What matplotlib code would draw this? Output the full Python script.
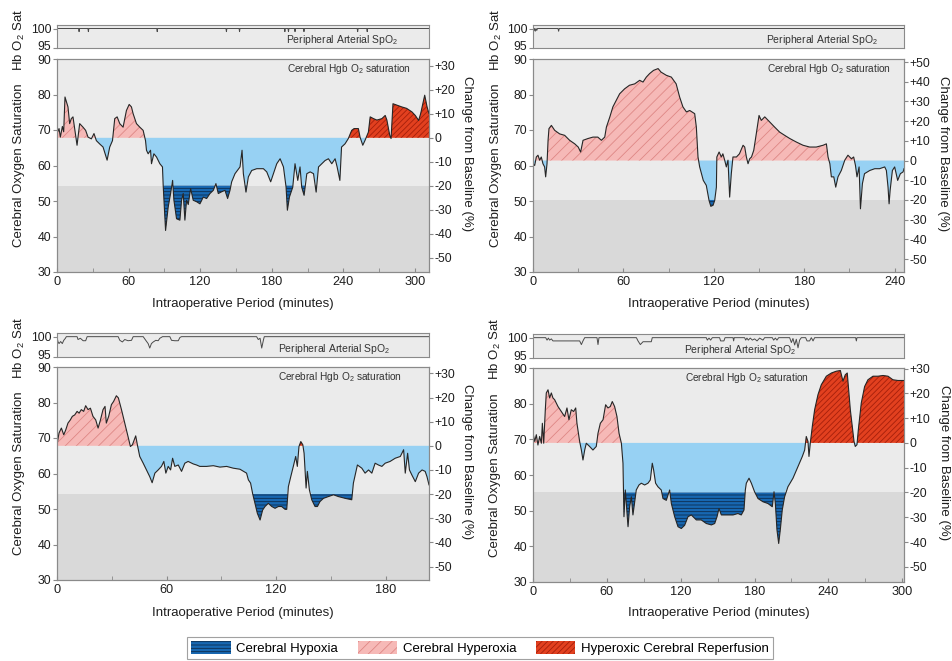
import matplotlib
matplotlib.use("Agg")
import matplotlib.pyplot as plt
import matplotlib.transforms as mtransforms
import numpy as np
from matplotlib.patches import Patch

W, H = 953, 661

# ---- panel A (top left) : cerebral saturation, % of baseline on right axis ----
a_time = [0, 1.7, 2.8, 4.5, 5.6, 6.7, 9.2, 10.6, 12.0, 13.4,
          14.8, 16.8, 19.0, 21.8, 24.0, 26.0, 28.8, 31.0, 33.0, 36.0,
          38.6, 42.0, 44.2, 46.5, 48.4, 50.4, 52.6, 55.4, 58.2, 60.5,
          62.4, 63.8, 66.6, 69.4, 72.2, 74.2, 75.0, 76.4, 78.4, 79.2,
          81.2, 83.4, 86.2, 88.4, 89.0, 91.0, 93.2, 95.2, 96.9, 98.0,
          100.2, 103.0, 104.4, 105.8, 107.2, 108.6, 110.0, 112.0, 114.2, 117.0,
          119.8, 122.6, 125.4, 128.2, 131.0, 133.2, 135.2, 138.0, 140.8, 143.0,
          145.0, 146.4, 149.2, 151.2, 153.4, 155.1, 156.2, 158.4, 160.4, 163.2,
          167.4, 173.0, 175.8, 179.1, 181.4, 184.2, 187.0, 189.8, 192.0, 193.1,
          194.8, 197.6, 199.5, 201.8, 203.7, 205.1, 207.1, 209.4, 212.2, 215.0,
          217.2, 219.2, 221.9, 224.7, 227.5, 230.3, 233.1, 234.8, 237.1, 238.5,
          241.4, 244.2, 247.0, 249.0, 252.6, 254.0, 256.3, 258.2, 261.0, 262.5,
          265.3, 268.1, 272.3, 275.1, 276.5, 278.9, 280.0, 281.6, 285.0, 289.0,
          293.0, 297.5, 300.3, 303.1, 304.8, 308.2, 310.2, 311.8]
a_sat = [69.0, 70.4, 68.0, 71.0, 69.5, 79.3, 76.5, 71.8, 73.2, 73.7,
         70.4, 65.7, 71.8, 70.8, 69.9, 68.0, 67.5, 69.0, 67.0, 66.0,
         65.2, 61.5, 65.2, 67.0, 73.2, 73.7, 71.8, 70.8, 75.5, 77.2,
         76.5, 74.6, 71.8, 70.8, 69.9, 67.0, 64.3, 63.3, 64.3, 60.5,
         63.3, 62.4, 60.5, 59.6, 54.4, 41.7, 48.3, 52.1, 55.8, 50.2,
         45.0, 44.6, 50.2, 52.1, 44.6, 50.2, 49.0, 53.5, 50.2, 49.8,
         49.2, 51.1, 50.7, 52.1, 53.0, 54.9, 52.1, 52.6, 53.0, 50.7,
         53.0, 55.4, 57.7, 58.6, 59.6, 64.3, 57.7, 52.5, 56.8, 58.6,
         59.1, 59.1, 58.2, 55.4, 57.7, 60.5, 61.9, 59.6, 53.9, 47.4,
         51.1, 53.9, 60.5, 55.8, 59.6, 53.9, 51.6, 57.7, 58.2, 57.7,
         52.5, 59.6, 60.5, 61.4, 61.9, 60.5, 61.9, 59.6, 55.8, 65.2,
         66.1, 67.6, 69.9, 70.4, 70.4, 68.0, 65.7, 67.1, 69.4, 73.7,
         73.2, 72.8, 73.2, 74.1, 72.8, 68.5, 67.6, 77.4, 77.0, 76.5,
         76.1, 75.1, 74.1, 72.7, 74.6, 79.8, 76.5, 74.6]
a_spo2_time = [0, 18.1, 18.5, 18.9, 25.9, 26.3, 26.7, 83.6, 84.0, 84.4,
               141.6, 142.0, 142.4, 152.6, 153.0, 153.4, 190.6, 191.0, 191.4, 193.6,
               194.0, 194.4, 199.1, 199.5, 199.9, 206.6, 207.0, 207.4, 251.6, 252.0,
               252.4, 259.6, 260.0, 260.4, 312]
a_spo2 = [100, 100, 99.2, 100, 100, 99.2, 100, 100, 99.2, 100,
          100, 99.2, 100, 100, 99.2, 100, 100, 99.2, 100, 100,
          99.2, 100, 100, 99.2, 100, 100, 99.2, 100, 100, 99.2,
          100, 100, 99.2, 100, 100]

# ---- panel B (top right) ----
b_time = [0, 1.1, 2.2, 3.3, 4.4, 5.5, 6.6, 7.7, 8.4, 9.3,
          10.0, 10.6, 12.2, 14.4, 17.7, 21.0, 24.3, 27.7, 30.0, 31.6,
          33.2, 36.5, 39.8, 43.0, 45.4, 47.6, 48.7, 51.0, 53.0, 55.3,
          57.5, 60.8, 64.0, 67.5, 70.8, 73.0, 75.2, 77.4, 80.0, 83.0,
          85.0, 88.5, 91.8, 95.0, 97.3, 99.5, 101.8, 104.0, 107.3, 108.4,
          109.5, 110.6, 113.0, 115.0, 116.8, 118.0, 119.5, 120.6, 121.7, 122.0,
          123.5, 125.0, 126.0, 127.2, 128.3, 129.4, 130.5, 131.6, 132.7, 135.0,
          137.0, 139.4, 140.5, 141.6, 142.7, 143.8, 145.0, 146.5, 148.2, 150.0,
          151.5, 153.8, 157.0, 160.4, 163.7, 167.0, 170.4, 174.8, 179.2, 183.6,
          188.0, 192.5, 194.7, 195.8, 197.0, 198.0, 199.6, 200.9, 202.4, 204.6,
          206.9, 209.0, 211.3, 212.8, 214.0, 215.0, 216.4, 217.3, 218.6, 220.0,
          223.5, 226.8, 230.0, 233.4, 234.5, 235.6, 236.3, 237.0, 238.5, 240.0,
          242.0, 243.8, 245.6, 246.2]
b_sat = [60.5, 60.0, 62.4, 62.9, 61.5, 62.4, 60.5, 59.6, 56.8, 60.5,
         67.1, 70.4, 71.3, 69.9, 68.9, 68.5, 67.1, 66.1, 65.2, 63.8,
         67.1, 67.6, 68.0, 68.0, 67.1, 68.0, 70.8, 73.7, 76.5, 78.4,
         80.2, 81.6, 82.6, 83.0, 84.0, 83.5, 84.9, 85.9, 86.8, 87.3,
         86.3, 85.4, 84.9, 83.0, 79.3, 76.5, 75.1, 75.5, 74.6, 70.8,
         62.4, 59.6, 55.8, 54.4, 50.2, 48.5, 48.8, 50.2, 53.9, 62.4,
         63.8, 62.4, 63.3, 61.5, 59.6, 61.5, 51.1, 57.7, 62.4, 62.4,
         63.3, 65.7, 65.2, 62.4, 60.5, 61.9, 62.4, 64.3, 69.0, 74.1,
         72.7, 73.7, 72.3, 70.8, 69.4, 68.5, 67.6, 66.6, 65.7, 65.2,
         65.2, 65.7, 66.1, 62.4, 60.5, 56.8, 56.8, 53.9, 56.8, 58.6,
         61.5, 62.9, 61.9, 62.4, 60.0, 56.8, 59.6, 47.8, 54.9, 57.7,
         58.6, 59.1, 59.1, 59.6, 58.6, 53.9, 49.2, 53.0, 58.6, 59.6,
         55.8, 57.7, 58.2, 59.1]
b_spo2_time = [0, 0.5, 1.0, 1.5, 2.0, 2.5, 3.0, 16.6, 17.0, 17.4, 246.2]
b_spo2 = [100, 99.4, 100, 99.3, 100, 99.5, 100, 100, 99.3, 100, 100]

# ---- panel C (bottom left) ----
c_time = [0, 1.1, 2.4, 3.7, 4.8, 6.0, 7.3, 8.4, 9.7, 11.0,
          12.1, 13.3, 14.6, 15.7, 17.0, 18.3, 19.7, 21.2, 22.5, 23.8,
          25.2, 26.3, 27.0, 28.3, 29.8, 31.0, 32.5, 33.6, 35.3, 37.1,
          38.9, 40.2, 41.3, 43.1, 44.0, 45.3, 47.2, 49.0, 50.8, 52.1,
          53.6, 55.4, 57.2, 58.5, 59.6, 60.9, 62.2, 63.3, 64.5, 66.4,
          68.2, 70.0, 71.8, 74.6, 76.4, 78.2, 81.9, 85.6, 89.2, 92.9,
          96.5, 100.2, 103.8, 104.8, 106.0, 107.1, 108.4, 109.7, 111.2, 112.6,
          113.9, 115.7, 117.6, 119.4, 121.2, 123.0, 124.9, 125.8, 126.7, 128.0,
          129.4, 130.7, 131.6, 132.5, 133.5, 134.6, 135.3, 136.4, 137.1, 138.2,
          139.5, 141.3, 142.6, 144.0, 145.9, 148.6, 151.4, 154.1, 157.8, 161.4,
          162.3, 164.5, 166.9, 168.7, 170.6, 172.4, 174.2, 176.0, 177.9, 179.7,
          182.4, 185.2, 188.0, 189.8, 190.7, 192.0, 193.0, 194.3, 196.2, 198.0,
          199.9, 201.6, 202.6, 203.7]
c_sat = [68.1, 71.4, 72.8, 70.9, 72.3, 74.2, 75.1, 76.1, 76.5, 77.5,
         77.0, 78.0, 77.5, 79.1, 78.0, 78.4, 76.1, 75.1, 72.8, 75.1,
         78.0, 78.9, 74.2, 76.1, 79.4, 80.3, 81.9, 81.3, 78.0, 74.2,
         70.4, 67.6, 68.1, 70.6, 68.1, 64.8, 62.9, 61.0, 59.1, 57.4,
         60.1, 61.0, 62.0, 63.4, 60.1, 62.0, 61.0, 64.3, 62.0, 62.4,
         60.6, 62.9, 63.4, 62.7, 62.4, 62.0, 62.0, 62.2, 61.8, 62.0,
         61.5, 61.2, 60.1, 58.2, 57.3, 54.4, 51.6, 48.8, 46.9, 49.7,
         50.7, 51.6, 50.7, 50.2, 50.7, 50.7, 49.9, 49.9, 56.3, 59.1,
         62.0, 64.8, 62.0, 67.6, 69.0, 68.1, 65.7, 55.9, 60.6, 55.4,
         52.6, 50.7, 50.7, 52.1, 53.0, 53.5, 54.0, 53.5, 53.0, 52.6,
         57.3, 62.4, 61.5, 60.1, 61.0, 60.1, 62.9, 62.4, 62.0, 62.9,
         63.4, 64.3, 64.8, 66.7, 60.1, 65.7, 61.0, 59.6, 57.7, 60.1,
         61.0, 60.6, 59.1, 56.8]
c_spo2_time = [0, 0.5, 1.1, 2.0, 2.9, 3.7, 4.6, 5.1, 11.0, 11.5,
               12.8, 14.3, 15.7, 16.5, 33.5, 34.4, 35.8, 37.1, 38.9, 40.8,
               41.7, 47.2, 48.6, 49.9, 50.8, 51.7, 52.7, 54.1, 55.4, 56.3,
               57.8, 61.8, 62.7, 64.5, 66.4, 67.3, 68.2, 109.3, 110.2, 111.2,
               112.1, 113.0, 113.5, 203.7]
c_spo2 = [100, 98.8, 98.3, 98.8, 98.3, 99.1, 99.6, 100, 100, 99.3,
          99.6, 99.0, 99.0, 100, 100, 99.1, 98.7, 99.3, 99.0, 99.1,
          100, 100, 99.1, 98.3, 97.2, 98.3, 98.7, 99.1, 99.0, 99.6,
          100, 100, 99.1, 99.0, 99.0, 99.8, 100, 100, 99.3, 99.6,
          97.2, 99.1, 100, 100]

# ---- panel D (bottom right) ----
d_time = [0, 1.4, 2.7, 4.0, 5.4, 6.8, 7.6, 8.7, 10.0, 10.8,
          12.2, 13.5, 14.9, 16.2, 17.6, 20.3, 23.0, 25.7, 27.6, 29.2,
          31.1, 33.0, 34.7, 35.7, 37.9, 39.3, 40.6, 42.0, 43.3, 46.0,
          48.7, 51.4, 52.8, 54.7, 56.9, 59.0, 60.9, 62.8, 64.4, 66.3,
          68.2, 69.9, 71.8, 73.1, 73.9, 75.0, 75.8, 77.2, 78.5, 79.9,
          81.2, 82.6, 83.9, 86.1, 88.0, 90.7, 93.4, 95.3, 96.9, 98.0,
          99.6, 101.5, 104.2, 105.6, 108.3, 111.0, 112.4, 115.1, 117.8, 120.5,
          123.2, 125.9, 128.6, 132.7, 136.7, 140.8, 144.9, 147.6, 149.5, 151.1,
          153.0, 157.1, 162.5, 166.5, 169.2, 171.4, 172.5, 173.3, 175.5, 177.4,
          180.0, 182.8, 186.8, 190.9, 194.4, 195.8, 196.9, 198.2, 199.6, 200.9,
          202.5, 204.4, 207.1, 211.2, 215.3, 218.8, 220.7, 222.0, 223.4, 224.2,
          225.3, 226.9, 228.8, 231.5, 234.2, 238.3, 242.4, 246.4, 249.7, 251.8,
          253.7, 255.3, 256.4, 257.8, 259.4, 260.8, 261.8, 263.2, 264.3, 266.7,
          269.4, 272.1, 276.2, 280.3, 284.3, 288.4, 292.4, 296.5, 301.4]
d_sat = [71.7, 69.4, 71.3, 68.4, 70.8, 68.9, 74.5, 68.9, 78.3, 83.0,
         83.9, 81.6, 83.0, 81.6, 81.1, 79.2, 77.8, 76.4, 78.8, 75.5,
         78.3, 77.8, 78.8, 74.5, 69.4, 67.0, 64.2, 67.0, 68.9, 68.0,
         67.0, 68.0, 71.7, 74.5, 75.5, 79.7, 78.8, 79.2, 80.6, 79.2,
         76.4, 71.7, 68.9, 63.3, 48.3, 55.8, 52.0, 45.5, 51.1, 53.9,
         48.8, 52.5, 55.8, 57.2, 57.7, 57.2, 57.7, 58.6, 63.3, 61.4,
         57.7, 56.7, 55.8, 53.4, 52.9, 55.8, 52.0, 48.3, 45.5, 45.0,
         45.9, 48.3, 48.8, 47.4, 47.4, 46.4, 46.0, 46.4, 48.3, 50.6,
         48.8, 48.8, 48.8, 49.2, 48.8, 50.2, 55.8, 57.7, 59.1, 57.7,
         55.3, 53.4, 52.5, 52.0, 51.1, 55.3, 52.0, 44.6, 40.8, 44.6,
         50.2, 53.9, 56.7, 59.1, 62.4, 65.2, 67.0, 70.8, 69.4, 65.2,
         69.0, 73.6, 78.3, 82.5, 85.3, 87.7, 88.6, 89.1, 89.3, 86.3,
         88.1, 88.6, 83.9, 78.3, 73.6, 69.4, 68.0, 68.5, 72.7, 80.2,
         84.8, 86.7, 87.7, 87.7, 87.9, 87.7, 86.7, 86.5, 86.5]
d_spo2_time = [0, 10.3, 11.4, 12.5, 13.5, 14.9, 16.2, 37.9, 39.3, 40.6,
               42.0, 52.0, 52.8, 53.6, 84.0, 85.3, 87.2, 89.4, 96.1, 96.9,
               140.8, 141.6, 143.0, 144.3, 145.7, 151.6, 152.4, 155.1, 156.0, 162.5,
               163.0, 163.5, 171.9, 172.8, 173.8, 174.9, 176.5, 178.2, 180.0, 182.0,
               184.1, 186.8, 188.2, 194.4, 195.5, 196.9, 198.2, 199.6, 208.5, 209.9,
               211.2, 212.6, 213.9, 215.3, 216.6, 218.0, 221.5, 222.6, 224.7, 226.1,
               227.5, 228.8, 262.1, 262.7, 263.2, 301.4]
d_spo2 = [100, 100, 99.4, 99.9, 99.4, 99.7, 99.2, 99.2, 98.3, 99.2,
          100, 100, 98.3, 100, 100, 99.2, 98.3, 99.0, 99.0, 100,
          100, 99.4, 99.9, 99.4, 100, 100, 99.2, 99.2, 100, 100,
          99.2, 100, 100, 99.4, 99.9, 99.4, 99.9, 99.4, 99.7, 99.2,
          99.9, 99.4, 100, 100, 99.4, 99.9, 99.4, 100, 100, 98.8,
          99.8, 98.2, 99.6, 97.5, 99.4, 100, 100, 99.2, 99.2, 100,
          99.2, 100, 100, 99.2, 100, 100]

# baseline, hypoxia threshold (-20 %), start of reperfusion, x range
a_base, a_thr, a_reperf, a_xmax = 67.8, 54.3, 245.0, 311.8
b_base, b_thr, b_reperf, b_xmax = 61.4, 50.3, 1e9, 246.2
c_base, c_thr, c_reperf, c_xmax = 67.8, 54.2, 120.0, 203.7
d_base, d_thr, d_reperf, d_xmax = 69.0, 55.1, 221.0, 301.4

a_xticks = [0, 60, 120, 180, 240, 300]
b_xticks = [0, 60, 120, 180, 240]
c_xticks = [0, 60, 120, 180]
d_xticks = [0, 60, 120, 180, 240, 300]
a_rticks = [30, 20, 10, 0, -10, -20, -30, -40, -50]
b_rticks = [50, 40, 30, 20, 10, 0, -10, -20, -30, -40, -50]
c_rticks = a_rticks
d_rticks = a_rticks

legend_labels = ["Cerebral Hypoxia", "Cerebral Hyperoxia", "Hyperoxic Cerebral Reperfusion"]

plt.rcParams["font.family"] = ["Liberation Sans", "DejaVu Sans"]
plt.rcParams["hatch.linewidth"] = 0.6
plt.rcParams["axes.linewidth"] = 0.8

BG = "#ebebeb"
BG_LOW = "#d9d9d9"
HYPO_LIGHT = "#97d1f3"
HYPO_DARK = "#1767b1"
HYPO_HATCH = "#0d2c4d"
HYPER = "#f6b9b7"
HYPER_HATCH = "#de8785"
REPERF = "#e2401f"
REPERF_HATCH = "#a51f0b"
SPINE = "#8a8a8a"
TEXT = "#1e1e1e"
O2 = r"O$_\mathregular{2}$"
TICK_FS = 8.8
LABEL_FS = 9.5


def px_rect(x0, y0, x1, y1):
    return [x0 / W, 1 - y1 / H, (x1 - x0) / W, (y1 - y0) / H]


def style_spines(ax):
    for sp in ax.spines.values():
        sp.set_color(SPINE)


def draw_panel(fig, lay, time, sat, spo2_time, spo2, base, thr, reperf, xmax, xticks, rticks):
    # peripheral SpO2 strip
    ax_s = fig.add_axes(px_rect(*lay["spo2"]))
    ax_s.set_facecolor(BG)
    ax_s.plot(spo2_time, spo2, color="#4a4a4a", lw=0.7)
    ax_s.set_xlim(0, xmax)
    ax_s.set_ylim(95, 100.9)
    ax_s.set_xticks([])
    ax_s.set_yticks([95, 100])
    ax_s.tick_params(axis="y", length=3, color=SPINE, labelsize=TICK_FS, labelcolor=TEXT, pad=1)
    style_spines(ax_s)
    # lift the "95" a little so it clears the "90" of the panel below
    lift = mtransforms.ScaledTranslation(0, 2 / 72, fig.dpi_scale_trans)
    low_label = ax_s.yaxis.get_majorticklabels()[0]
    low_label.set_transform(low_label.get_transform() + lift)
    ax_s.text(lay["spo2_note"], 0.33, "Peripheral Arterial Sp" + O2, transform=ax_s.transAxes,
              ha="center", va="center", fontsize=7.5, color="#333333")

    # cerebral saturation
    ax = fig.add_axes(px_rect(*lay["main"]))
    ax.set_facecolor(BG)
    ax.axhspan(30, thr, color=BG_LOW, lw=0, zorder=0.5)
    t = np.asarray(time)
    v = np.asarray(sat)
    ax.fill_between(t, v, base, where=(v > base) & (t < reperf), interpolate=True,
                    facecolor=HYPER, edgecolor=HYPER_HATCH, hatch="///", lw=0)
    ax.fill_between(t, v, base, where=(v > base) & (t >= reperf), interpolate=True,
                    facecolor=REPERF, edgecolor=REPERF_HATCH, hatch="//////", lw=0)
    ax.fill_between(t, np.maximum(v, thr), base, where=v < base, interpolate=True,
                    facecolor=HYPO_LIGHT, lw=0)
    ax.fill_between(t, v, thr, where=v < thr, interpolate=True,
                    facecolor=HYPO_DARK, edgecolor=HYPO_HATCH, hatch="-----", lw=0)
    ax.plot(t, v, color="#262626", lw=0.8)

    ax.set_xlim(0, xmax)
    ax.set_ylim(30, 90)
    ax.set_xticks(xticks)
    ax.set_xticks(np.arange(30, xmax, 60), minor=True)
    ax.tick_params(axis="x", which="both", direction="in", length=3, color=SPINE,
                   labelsize=TICK_FS + 0.4, labelcolor=TEXT, pad=3)
    ax.set_yticks(range(30, 91, 10))
    ax.tick_params(axis="y", length=3, color=SPINE, labelsize=TICK_FS, labelcolor=TEXT, pad=1)
    style_spines(ax)
    ax.text(lay["note"], 0.955, "Cerebral Hgb " + O2 + " saturation", transform=ax.transAxes,
            ha="center", va="center", fontsize=7.3, color="#333333")

    # change from baseline (%) on the right
    scale = (base - thr) / 20.0
    ax2 = ax.twinx()
    ax2.set_ylim((30 - base) / scale, (90 - base) / scale)
    ax2.set_yticks(rticks)
    ax2.set_yticklabels([("%+d" % r) if r != 0 else "0" for r in rticks])
    ax2.tick_params(axis="y", length=3, color=SPINE, labelsize=TICK_FS, labelcolor=TEXT, pad=1)
    style_spines(ax2)

    x0, y0, x1, y1 = lay["main"]
    fig.text(lay["ylab_x"] / W, 1 - (y0 + y1) / 2 / H, "Cerebral Oxygen Saturation",
             rotation=90, ha="center", va="center", fontsize=LABEL_FS, color=TEXT)
    fig.text(lay["ylab_x"] / W, 1 - lay["hb_y"] / H, "Hb " + O2 + " Sat",
             rotation=90, ha="center", va="center", fontsize=LABEL_FS, color=TEXT)
    fig.text(lay["rlab_x"] / W, 1 - lay["rlab_y"] / H, "Change from Baseline (%)",
             rotation=270, ha="center", va="center", fontsize=LABEL_FS, color=TEXT)
    fig.text((x0 + x1) / 2 / W, 1 - lay["xlab_y"] / H, "Intraoperative Period (minutes)",
             ha="center", va="center", fontsize=LABEL_FS, color=TEXT)


fig = plt.figure(figsize=(W / 100, H / 100), dpi=100)

layouts = [
    dict(spo2=(57, 25, 429, 48), main=(57, 59, 429, 272), note=0.785, spo2_note=0.767,
         ylab_x=19, hb_y=40, rlab_x=467, rlab_y=154, xlab_y=304),
    dict(spo2=(533, 25, 904, 48), main=(533, 59, 904, 272), note=0.798, spo2_note=0.779,
         ylab_x=496, hb_y=40, rlab_x=943, rlab_y=154, xlab_y=304),
    dict(spo2=(57, 333, 429, 357), main=(57, 367, 429, 580), note=0.76, spo2_note=0.744,
         ylab_x=19, hb_y=348, rlab_x=467, rlab_y=462, xlab_y=613),
    dict(spo2=(533, 334, 904, 358), main=(533, 368, 904, 582), note=0.577, spo2_note=0.558,
         ylab_x=495, hb_y=349, rlab_x=944, rlab_y=463, xlab_y=613),
]

draw_panel(fig, layouts[0], a_time, a_sat, a_spo2_time, a_spo2, a_base, a_thr, a_reperf, a_xmax, a_xticks, a_rticks)
draw_panel(fig, layouts[1], b_time, b_sat, b_spo2_time, b_spo2, b_base, b_thr, b_reperf, b_xmax, b_xticks, b_rticks)
draw_panel(fig, layouts[2], c_time, c_sat, c_spo2_time, c_spo2, c_base, c_thr, c_reperf, c_xmax, c_xticks, c_rticks)
draw_panel(fig, layouts[3], d_time, d_sat, d_spo2_time, d_spo2, d_base, d_thr, d_reperf, d_xmax, d_xticks, d_rticks)

handles = [
    Patch(facecolor=HYPO_DARK, edgecolor=HYPO_HATCH, hatch="-----", lw=0),
    Patch(facecolor=HYPER, edgecolor=HYPER_HATCH, hatch="///", lw=0),
    Patch(facecolor=REPERF, edgecolor=REPERF_HATCH, hatch="//////", lw=0),
]
leg = fig.legend(handles, legend_labels, loc="center", bbox_to_anchor=(480 / W, 1 - 648 / H),
                 ncol=3, frameon=True, fancybox=False, fontsize=LABEL_FS, handlelength=3.0,
                 handleheight=1.15, columnspacing=1.5, handletextpad=0.4, borderpad=0.3,
                 borderaxespad=0)
leg.get_frame().set_edgecolor(SPINE)
leg.get_frame().set_linewidth(0.8)

fig.savefig("out.png", dpi=100)
